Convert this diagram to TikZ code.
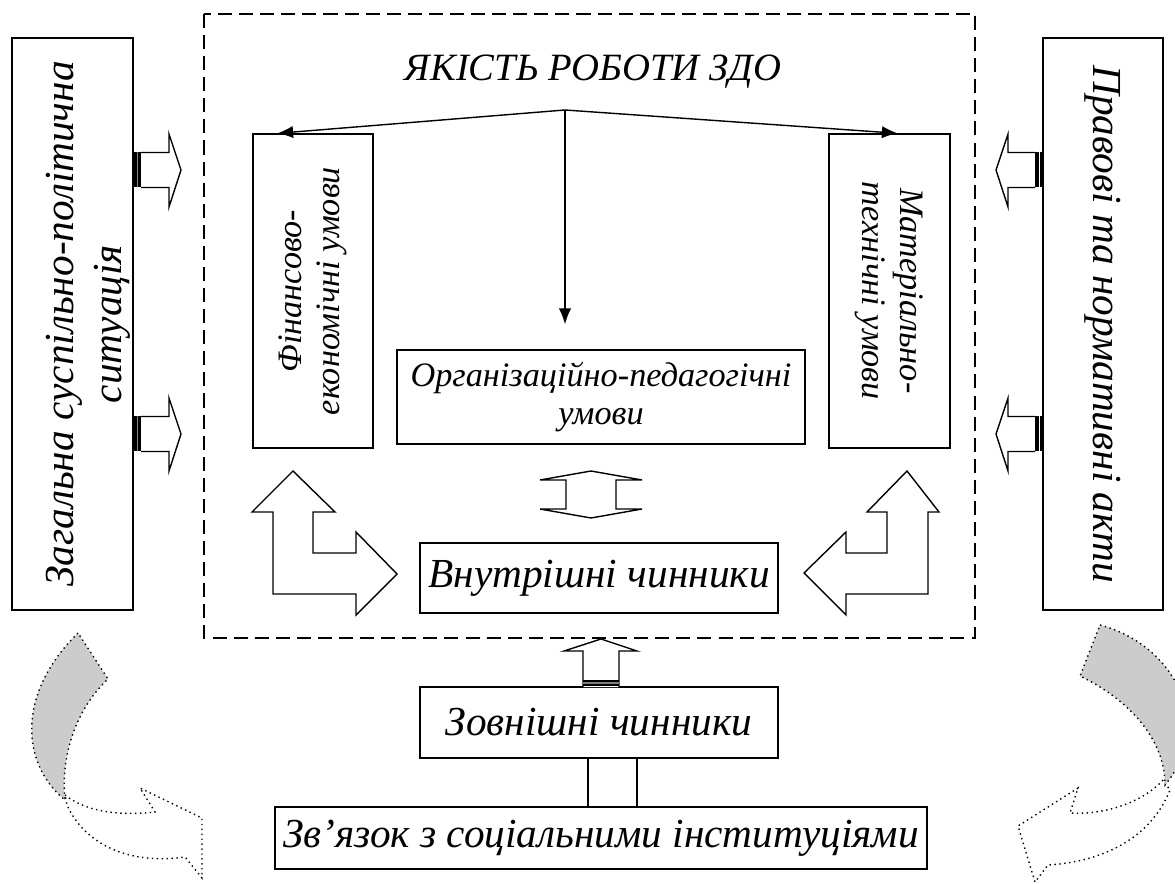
\documentclass[tikz,border=0pt]{standalone}
\usepackage{fontspec}
\setmainfont{Liberation Serif}
\usetikzlibrary{arrows.meta,calc}

\tikzset{
  box/.style={draw, thick, inner sep=0pt},
  bigtext/.style={font=\fontsize{23.5}{27}\selectfont\itshape, align=center},
  midtext/.style={font=\fontsize{19.5}{21.5}\selectfont\itshape, align=center},
  blockarrow/.style={draw, thick, fill=white, line join=miter},
  curvearrow/.style={draw, thick, dotted},
}

\begin{document}
\begin{tikzpicture}[x=0.02cm, y=-0.02cm]
    \useasboundingbox (0,0) rectangle (1175,884);
    % dashed frame
    \draw[thick, dash pattern=on 8pt off 4pt] (204,14) rectangle (975,638);
    % side boxes
    \node[box, minimum width=2.42cm, minimum height=11.44cm] (zag) at (72.5,324) {};
    \node[bigtext, rotate=90] (zagtext) at ([xshift=0.32cm]zag.center) {Загальна суспільно-політична\\ситуація};
    \node[box, minimum width=2.4cm, minimum height=11.44cm] (prav) at (1103,324) {};
    \node[bigtext, rotate=-90] (pravtext) at (prav.center) {Правові та нормативні акти};
    % inner blocks
    \node[font=\fontsize{22}{24}\selectfont\itshape] (title) at (593,72) {ЯКІСТЬ РОБОТИ ЗДО};
    \node[box, minimum width=2.4cm, minimum height=6.28cm] (fin) at (313,291) {};
    \node[midtext, rotate=90] (fintext) at (fin.center) {Фінансово-\\економічні умови};
    \node[box, minimum width=2.42cm, minimum height=6.28cm] (mat) at (889.5,291) {};
    \node[midtext, rotate=-90] (mattext) at (mat.center) {Матеріально-\\технічні умови};
    \node[box, midtext, minimum width=8.16cm, minimum height=1.88cm] (org) at (601,397) {Організаційно-педагогічні\\умови};
    \node[box, bigtext, minimum width=7.16cm, minimum height=1.4cm] (vnutr) at (599,578) {Внутрішні чинники};
    \node[box, bigtext, minimum width=7.16cm, minimum height=1.42cm] (zovn) at (599,722.5) {Зовнішні чинники};
    \node[box, bigtext, minimum width=13.04cm, minimum height=1.24cm] (zvyaz) at (601,838) {Зв’язок з соціальними інституціями};

    % arrows from the title
    \coordinate (hub) at (565,110);
    \draw[thick, -{Latex[length=9pt, width=7pt]}] (hub) -- ([xshift=0.5cm]fin.north west);
    \draw[thick, -{Latex[length=9pt, width=7pt]}] (hub) -- ([xshift=-1.06cm]mat.north east);
    \draw[thick, -{Latex[length=9pt, width=7pt]}] (hub) -- ($(hub |- org.north)+(0,-25)$);

    % side block arrows
    \foreach \y in {170,434} {
        \draw[blockarrow] (141,\y-17.5) -- (169,\y-17.5) -- (169,\y-36) -- (181,\y)
            -- (169,\y+37) -- (169,\y+17.5) -- (141,\y+17.5);
        \fill (133,\y-17.5) rectangle (141,\y+17.5);
        \draw[gray, line width=1pt] (137.5,\y-17.5) -- (137.5,\y+17.5);
        \draw[blockarrow] (1035,\y-17.5) -- (1008,\y-17.5) -- (1008,\y-36) -- (996,\y)
            -- (1008,\y+37) -- (1008,\y+17.5) -- (1035,\y+17.5);
        \fill (1035,\y-17.5) rectangle (1043,\y+17.5);
        \draw[white, line width=1pt] (1039.5,\y-17.5) -- (1039.5,\y+17.5);
    }

    % bent arrows
    \draw[blockarrow] (273,512) -- (252,512) -- (293,471) -- (335,512) -- (313,512) -- (313,553)
        -- (356,553) -- (356,532) -- (397,574) -- (356,615) -- (356,594) -- (273,594) -- cycle;
    \draw[blockarrow] (928,512) -- (939,512) -- (907,471) -- (867,512) -- (887,512) -- (887,553)
        -- (846,553) -- (846,532) -- (804,573) -- (846,615) -- (846,594) -- (928,594) -- cycle;

    % up-down arrow
    \draw[blockarrow] (566,480) -- (540,480) -- (591,471) -- (642,480) -- (616,480) -- (616,509)
        -- (642,509) -- (591,518) -- (540,509) -- (566,509) -- cycle;

    % from outer factors up to the frame
    \draw[blockarrow] (583,687) -- (583,651) -- (564,651) -- (601,639) -- (637,651) -- (619,651) -- (619,687);
    \fill (583,680) rectangle (619,686);
    \draw[gray, line width=1pt] (583,683) -- (619,683);
    \draw[thick] ([xshift=-0.22cm]zovn.south) coordinate (l1) -- (l1 |- zvyaz.north);
    \draw[thick] ([xshift=0.76cm]zovn.south) coordinate (l2) -- (l2 |- zvyaz.north);

    % curved arrows
    \draw[curvearrow, fill=white] (65,795) .. controls (90,815) and (130,815) .. (155,812)
        -- (140,788) -- (202,818) -- (202,878) -- (185,857)
        .. controls (130,865) and (85,845) .. (67,805) -- cycle;
    \draw[curvearrow, fill=black!20] (78,633) .. controls (15,695) and (22,765) .. (65,800)
        .. controls (60,750) and (80,705) .. (108,679) -- cycle;
    \draw[curvearrow, fill=white] (1163,780) .. controls (1140,805) and (1100,815) .. (1070,813)
        -- (1078,788) -- (1018,826) -- (1035,882) -- (1048,865)
        .. controls (1100,862) and (1150,840) .. (1170,790) -- cycle;
    \draw[curvearrow, fill=black!20] (1100,625) .. controls (1175,645) and (1215,725) .. (1165,785)
        .. controls (1165,740) and (1130,700) .. (1080,676) -- cycle;
\end{tikzpicture}
\end{document}
